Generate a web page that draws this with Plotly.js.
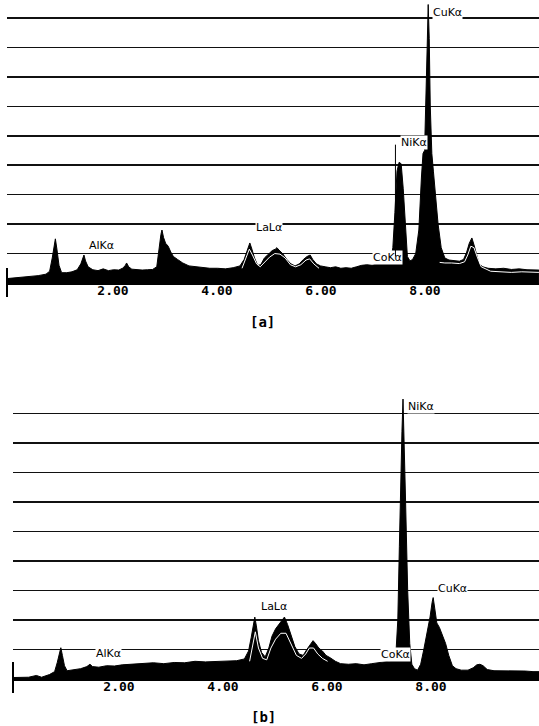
<!DOCTYPE html>
<html>
<head>
<meta charset="utf-8">
<script src="https://cdn.plot.ly/plotly-3.0.1.min.js"></script>
<style>html,body{margin:0;padding:0;background:#fff;}#chart{width:539px;height:726px;}</style>
</head>
<body>
<div id="chart"></div>
<script>
// ---------- Panel [a] spectrum (energy keV, intensity in grid units) ----------
const energyA = [
  0.00,0.20,0.40,0.60,0.75,0.82,0.87,0.90,0.93,0.96,
  1.00,1.05,1.15,1.25,1.35,1.42,1.46,1.48,1.51,1.56,
  1.65,1.75,1.85,1.95,2.05,2.15,2.22,2.27,2.30,2.34,
  2.40,2.50,2.60,2.70,2.80,2.88,2.93,2.96,2.98,3.01,
  3.05,3.10,3.15,3.20,3.28,3.38,3.50,3.62,3.75,3.90,
  4.05,4.20,4.35,4.48,4.56,4.62,4.67,4.71,4.76,4.82,
  4.88,4.95,5.03,5.10,5.16,5.19,5.23,5.30,5.38,5.46,
  5.54,5.62,5.70,5.77,5.83,5.88,5.95,6.03,6.12,6.22,
  6.32,6.42,6.52,6.62,6.72,6.82,6.92,7.02,7.12,7.22,
  7.32,7.38,7.42,7.46,7.50,7.54,7.58,7.62,7.66,7.70,
  7.75,7.80,7.86,7.92,7.97,8.00,8.03,8.06,8.08,8.10,
  8.12,8.14,8.17,8.20,8.24,8.29,8.35,8.42,8.50,8.60,
  8.70,8.78,8.84,8.89,8.94,8.98,9.03,9.08,9.15,9.25,
  9.40,9.55,9.70,9.85,10.00,10.12,10.23
];
const countsA = [
  0.15,0.18,0.22,0.25,0.30,0.40,0.85,1.20,1.50,1.15,
  0.60,0.35,0.35,0.38,0.45,0.65,0.85,0.95,0.75,0.55,
  0.45,0.42,0.48,0.42,0.45,0.44,0.50,0.58,0.68,0.55,
  0.47,0.45,0.44,0.45,0.46,0.55,1.30,1.65,1.80,1.55,
  1.35,1.25,1.05,0.90,0.80,0.68,0.58,0.55,0.52,0.50,
  0.50,0.48,0.52,0.58,0.80,1.10,1.36,1.15,0.85,0.60,
  0.62,0.85,1.00,1.10,1.15,1.20,1.12,1.00,0.80,0.65,
  0.58,0.65,0.80,0.90,0.95,0.80,0.65,0.58,0.55,0.52,
  0.55,0.50,0.52,0.50,0.55,0.60,0.62,0.60,0.65,0.68,
  0.70,0.75,1.20,2.40,3.80,4.10,4.05,3.20,1.80,0.90,
  0.75,0.80,1.00,1.80,3.60,4.40,4.50,6.20,8.00,9.46,
  8.30,6.00,4.40,3.80,3.00,2.00,1.20,0.85,0.78,0.75,
  0.74,0.80,1.05,1.35,1.53,1.30,0.95,0.65,0.55,0.50,
  0.48,0.50,0.46,0.48,0.45,0.44,0.44
];
// overlay spectrum drawn as a thin white trace inside the fill
const overlayEnergyA = [4.52,4.60,4.66,4.72,4.80,4.87,4.95,5.05,5.15,5.25,5.35,5.45,5.55,5.65,5.75,5.82,5.90,6.00,null,
  8.32,8.42,8.55,8.70,8.80,8.86,8.92,8.98,9.05,9.12,9.30,9.50,9.70,9.90,10.10,10.23];
const overlayCountsA = [0.50,0.85,1.15,0.95,0.65,0.55,0.70,0.88,1.00,0.98,0.85,0.62,0.55,0.62,0.78,0.82,0.65,0.50,null,
  0.70,0.68,0.68,0.66,0.72,0.95,1.25,1.20,0.85,0.55,0.40,0.38,0.36,0.38,0.36,0.36];

// ---------- Panel [b] spectrum ----------
const energyB = [
  0.00,0.30,0.45,0.55,0.70,0.80,0.85,0.89,0.92,0.95,
  0.99,1.04,1.15,1.30,1.42,1.48,1.53,1.65,1.80,1.95,
  2.10,2.30,2.50,2.70,2.90,3.10,3.30,3.50,3.70,3.90,
  4.10,4.30,4.45,4.53,4.58,4.62,4.65,4.68,4.72,4.78,
  4.85,4.92,4.98,5.05,5.12,5.18,5.22,5.28,5.35,5.42,
  5.50,5.58,5.65,5.72,5.77,5.82,5.88,5.95,6.02,6.10,
  6.20,6.30,6.45,6.60,6.75,6.90,7.05,7.20,7.30,7.36,
  7.40,7.43,7.46,7.48,7.50,7.52,7.55,7.59,7.63,7.67,
  7.72,7.78,7.84,7.90,7.96,8.02,8.06,8.08,8.11,8.15,
  8.20,8.26,8.32,8.38,8.45,8.52,8.62,8.75,8.85,8.92,
  8.98,9.04,9.12,9.25,9.45,9.65,9.85,10.00,10.12
];
const countsB = [
  0.05,0.06,0.12,0.06,0.15,0.25,0.55,0.90,1.06,0.80,
  0.45,0.28,0.30,0.35,0.42,0.50,0.42,0.40,0.45,0.44,
  0.48,0.50,0.52,0.55,0.52,0.56,0.55,0.60,0.58,0.60,
  0.62,0.62,0.68,0.95,1.40,1.85,2.10,1.80,1.30,0.90,
  0.75,1.05,1.45,1.70,1.85,2.00,2.10,1.85,1.50,1.10,
  0.85,0.80,1.00,1.20,1.30,1.20,1.05,0.95,0.80,0.72,
  0.60,0.52,0.50,0.52,0.48,0.52,0.55,0.58,0.62,0.75,
  2.00,4.50,7.50,8.40,9.49,8.40,6.00,3.00,1.20,0.50,
  0.35,0.30,0.50,1.00,1.50,2.10,2.60,2.76,2.40,1.90,
  1.75,1.50,1.20,0.80,0.45,0.35,0.30,0.30,0.38,0.48,
  0.50,0.45,0.32,0.28,0.28,0.26,0.27,0.25,0.25
];
const overlayEnergyB = [4.55,4.62,4.66,4.72,4.80,4.88,4.96,5.05,5.15,5.25,5.35,5.45,5.55,5.63,5.70,5.78,5.86,5.95,6.05];
const overlayCountsB = [0.60,1.20,1.60,1.05,0.70,0.65,1.05,1.35,1.55,1.55,1.15,0.80,0.70,0.85,1.05,1.05,0.85,0.70,0.60];

// ---------- Peak labels ----------
const peakLabelsA = ['AlKα','LaLα','CoKα','NiKα','CuKα'];
const peakLabelXA = [1.56, 4.77, 7.02, 7.56, 8.17];
const peakLabelYA = [1.26, 1.90, 0.85, 4.76, 9.18];
const peakLabelsB = ['AlKα','LaLα','CoKα','NiKα','CuKα'];
const peakLabelXB = [1.58, 4.75, 7.06, 7.58, 8.15];
const peakLabelYB = [0.85, 2.46, 0.82, 9.25, 3.07];

const tickVals = [2, 4, 6, 8];
const tickText = ['2.00', '4.00', '6.00', '8.00'];
const panelTitles = ['[a]', '[b]'];

// ---------- Layout geometry (pixels) ----------
const W = 539, H = 726;
const aBase = 283, aTop = 0, aLeft = 7;
const bBase = 679, bTop = 390, bLeft = 13;
const aUnit = 29.44, bUnit = 29.5, pxPerKeV = 52;

const spectrumStyle = {type:'scatter', mode:'lines', fill:'tozeroy', fillcolor:'#000',
  line:{color:'#000', width:1}, hoverinfo:'skip', showlegend:false};
const overlayStyle = {type:'scatter', mode:'lines', line:{color:'#fff', width:1},
  hoverinfo:'skip', showlegend:false, connectgaps:false};

const traces = [
  Object.assign({x:energyA, y:countsA, xaxis:'x', yaxis:'y'}, spectrumStyle),
  Object.assign({x:overlayEnergyA, y:overlayCountsA, xaxis:'x', yaxis:'y'}, overlayStyle),
  Object.assign({x:energyB, y:countsB, xaxis:'x2', yaxis:'y2'}, spectrumStyle),
  Object.assign({x:overlayEnergyB, y:overlayCountsB, xaxis:'x2', yaxis:'y2'}, overlayStyle)
];

const tickFont = {family:'DejaVu Sans Mono', size:13, color:'#000', weight:'bold'};
function xAxis(leftPx, shift) {
  return {
    domain:[leftPx / W, 1],
    range:[0, (W - leftPx) / pxPerKeV],
    showgrid:false, zeroline:false, showline:true, linecolor:'#000', linewidth:2,
    tickvals:tickVals, ticktext:tickText, ticks:'', tickfont:tickFont,
    ticklabelshift:shift, ticklabelstandoff:-6, fixedrange:true
  };
}
function yAxis(base, top, unit) {
  return {
    domain:[1 - base / H, 1 - top / H],
    range:[0, (base - top) / unit],
    dtick:1, tick0:0, showgrid:true, gridcolor:'#111', gridwidth:1.6,
    zeroline:false, showline:false, showticklabels:false, ticks:'', fixedrange:true
  };
}

const labelFont = {family:'DejaVu Sans', size:11, color:'#000'};
const annotations = [];
peakLabelsA.forEach((t, i) => annotations.push({
  text:t, x:peakLabelXA[i], y:peakLabelYA[i], xref:'x', yref:'y', xanchor:'left', yanchor:'middle',
  showarrow:false, font:labelFont, bgcolor:'#fff', borderpad:0
}));
peakLabelsB.forEach((t, i) => annotations.push({
  text:t, x:peakLabelXB[i], y:peakLabelYB[i], xref:'x2', yref:'y2', xanchor:'left', yanchor:'middle',
  showarrow:false, font:labelFont, bgcolor:'#fff', borderpad:0
}));
// leader line from NiKα label down the Ni peak in [a]
annotations.push({text:'', x:7.47, y:0.9, ax:7.47, ay:4.75, xref:'x', yref:'y', axref:'x', ayref:'y',
  showarrow:true, arrowhead:0, arrowwidth:1, arrowcolor:'#000'});
const titleFont = {family:'DejaVu Sans Mono', size:14, color:'#000', weight:'bold'};
annotations.push({text:panelTitles[0], x:262 / W, y:1 - 322 / H, xref:'paper', yref:'paper',
  showarrow:false, font:titleFont, xanchor:'center', yanchor:'middle'});
annotations.push({text:panelTitles[1], x:263 / W, y:1 - 717 / H, xref:'paper', yref:'paper',
  showarrow:false, font:titleFont, xanchor:'center', yanchor:'middle'});

// short vertical stubs at the origin of each energy axis
const shapes = [
  {type:'line', xref:'paper', yref:'paper', x0:aLeft / W, x1:aLeft / W, y0:1 - 297 / H, y1:1 - 268 / H,
    line:{color:'#000', width:2}},
  {type:'line', xref:'paper', yref:'paper', x0:bLeft / W, x1:bLeft / W, y0:1 - 693 / H, y1:1 - 662 / H,
    line:{color:'#000', width:2}}
];

const layout = {
  width:W, height:H, margin:{l:0, r:0, t:0, b:0},
  paper_bgcolor:'#fff', plot_bgcolor:'rgba(0,0,0,0)',
  showlegend:false,
  xaxis:Object.assign(xAxis(aLeft, 2), {anchor:'y'}), yaxis:Object.assign(yAxis(aBase, aTop, aUnit), {anchor:'x'}),
  xaxis2:Object.assign(xAxis(bLeft, 2), {anchor:'y2'}), yaxis2:Object.assign(yAxis(bBase, bTop, bUnit), {anchor:'x2'}),
  annotations:annotations, shapes:shapes
};

Plotly.newPlot('chart', traces, layout, {staticPlot:true, displayModeBar:false});
</script>
</body>
</html>
